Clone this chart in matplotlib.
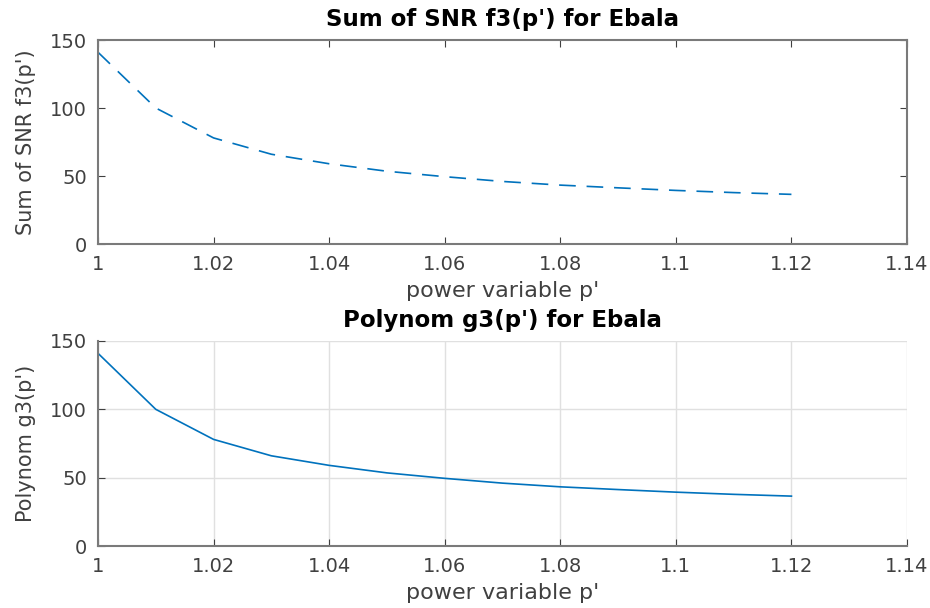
import matplotlib
matplotlib.use('Agg')
import matplotlib.pyplot as plt

plt.rcParams['font.family'] = ['DejaVu Sans']

p = [1.00, 1.01, 1.02, 1.03, 1.04, 1.05, 1.06, 1.07, 1.08, 1.09, 1.10, 1.11, 1.12]
f3 = [141, 100, 78, 66, 59, 53.5, 49.5, 46, 43.3, 41.3, 39.4, 37.8, 36.5]
g3 = [141, 100, 78, 66, 59, 53.5, 49.5, 46, 43.3, 41.3, 39.4, 37.8, 36.5]

xticks = [1, 1.02, 1.04, 1.06, 1.08, 1.1, 1.12, 1.14]
xticklabels = ['1', '1.02', '1.04', '1.06', '1.08', '1.1', '1.12', '1.14']
yticks = [0, 50, 100, 150]

blue = '#0072BD'
axc = '#404040'

fig = plt.figure(figsize=(9.3, 6.08), dpi=100)
ax1 = fig.add_axes([98/930, 1 - 244/608, 809/930, 204/608])
ax2 = fig.add_axes([98/930, 1 - 546/608, 809/930, 205/608])

ax1.plot(p, f3, color=blue, lw=1.2, ls=(0, (10, 6.5)))
ax2.plot(p, g3, color=blue, lw=1.2)

for ax, title, ylabel in [(ax1, "Sum of SNR f3(p') for Ebala", "Sum of SNR f3(p')"),
                          (ax2, "Polynom g3(p') for Ebala", "Polynom g3(p')")]:
    ax.set_xlim(1, 1.14)
    ax.set_ylim(0, 150)
    ax.set_xticks(xticks)
    ax.set_xticklabels(xticklabels)
    ax.set_yticks(yticks)
    ax.set_title(title, fontsize=16.5, fontweight='bold', pad=10)
    ax.set_xlabel("power variable p'", fontsize=16, color=axc, labelpad=5)
    ax.set_ylabel(ylabel, fontsize=15, color=axc, labelpad=10)
    ax.tick_params(direction='in', labelsize=14, colors=axc, length=5, pad=8)
    for s in ax.spines.values():
        s.set_color('#7a7a7a')
        s.set_linewidth(1.5)

ax1.tick_params(top=True, right=True)

ax2.grid(True, color='#e0e0e0', lw=1)
ax2.set_axisbelow(True)
ax2.spines['top'].set_visible(False)
ax2.spines['right'].set_visible(False)

fig.savefig('out.png', dpi=100)
